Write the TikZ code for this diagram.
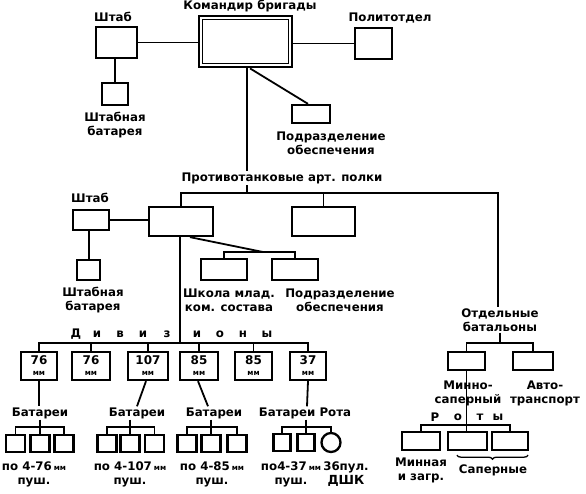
\documentclass[tikz,border=0pt]{standalone}
\usepackage{fontspec}
\setmainfont{DejaVu Sans}
\usetikzlibrary{decorations.pathreplacing}
\newcommand\lbfont{\fontsize{11.8}{14}\selectfont\bfseries}
\newcommand\numfont{\fontsize{12}{12}\selectfont\bfseries}
\newcommand\mmfont{\fontsize{7.5}{7.5}\selectfont\bfseries}
\begin{document}
\begin{tikzpicture}[x=1pt,y=-1pt,
  bx/.style={draw, line width=2.3pt, inner sep=0pt},
  ln/.style={line width=1.8pt},
  lbl/.style={inner sep=1pt, align=center, font=\lbfont},
  dv/.style={bx, minimum width=#1, minimum height=28, align=center},
  bt/.style={bx, minimum width=19, minimum height=17},
  rb/.style={bx, minimum width=#1, minimum height=18},
]
\useasboundingbox (0,0) rectangle (586,493);
% ---------- top level
\node[bx, line width=2.8pt, minimum width=93, minimum height=51] (cmd) at (245.5,41.5) {};
\draw[line width=1.5pt] ([shift={(5,5)}]cmd.north west) rectangle ([shift={(-5,-5)}]cmd.south east);
\node[lbl, anchor=base] (cmdl) at (250,9) {Командир бригады};
\node[bx, minimum width=41, minimum height=31] (shtab1) at (116.5,42.5) {};
\node[lbl] (shtab1l) at (113,17) {Штаб};
\node[bx, minimum width=26, minimum height=22] (sbat1) at (115,94) {};
\node[lbl] (sbat1l) at (115,125) {Штабная\\батарея};
\node[bx, minimum width=37, minimum height=31] (polit) at (373.5,43.5) {};
\node[lbl] (politl) at (390,18) {Политотдел};
\node[bx, minimum width=38, minimum height=18] (podr1) at (311,114) {};
\node[lbl] (podr1l) at (331,143.5) {Подразделение\\обеспечения};
\draw[ln] (shtab1.east) -- (shtab1.east -| cmd.west);
\draw[ln] (cmd.east |- polit.west) -- (polit.west);
\draw[ln] ([xshift=-1.5pt]shtab1.south) -- ([xshift=-1.5pt]shtab1.south |- sbat1.north);
\draw[ln] ([xshift=4.5pt]cmd.south) -- ([xshift=-3pt]podr1.north);
% ---------- regiments
\node[lbl, fill=white, inner sep=1.5pt] (ptap) at (282,178) {Противотанковые арт. полки};
\coordinate (hR) at (498,193);
\node[bx, minimum width=64, minimum height=29] (reg1) at (181,221.5) {};
\node[bx, minimum width=63, minimum height=29] (reg2) at (323.5,221.5) {};
\node[bx, minimum width=36, minimum height=20] (shtab2) at (91,220) {};
\node[lbl] (shtab2l) at (90,198) {Штаб};
\node[bx, minimum width=23, minimum height=20] (sbat2) at (88.5,270) {};
\node[lbl] (sbat2l) at (93,300) {Штабная\\батарея};
\node[bx, minimum width=46, minimum height=21] (school) at (224,269.5) {};
\node[lbl] (schooll) at (229,300) {Школа млад.\\ком. состава};
\node[bx, minimum width=46, minimum height=21] (podr2) at (295,269.5) {};
\node[lbl] (podr2l) at (340,300) {Подразделение\\обеспечения};
\node[lbl] (otdl) at (500,320) {Отдельные\\батальоны};
\draw[ln] ([xshift=1.5pt]cmd.south) -- ([xshift=1.5pt]cmd.south |- ptap.north);
\draw[ln] ([xshift=1.5pt]cmd.south |- ptap.south) -- ([xshift=1.5pt]cmd.south |- hR);
\draw[ln] (reg1.north) |- (hR) -- (hR |- otdl.north);
\draw[ln] (reg2.north) -- (reg2.north |- hR);
\draw[ln] (shtab2.east) -- (shtab2.east -| reg1.west);
\draw[ln] ([xshift=-2pt]shtab2.south) -- ([xshift=-2pt]shtab2.south |- sbat2.north);
\coordinate (sb) at (263,252);
\draw[ln] ([xshift=9pt]reg1.south) -- (sb);
\draw[ln] (school.north) |- (sb) -| (podr2.north);
% ---------- divisions
\foreach \x/\c [count=\i] in {76/Д, 97/и, 120/в, 143/и, 167/з, 197/и, 220/о, 243/н, 267/ы}
  \node[lbl] (dl\i) at (\x,334) {\c};
\coordinate (dh) at (0,343);
\node[dv=36] (d1) at (39,366) {\numfont 76\\[-1pt]\mmfont мм};
\node[dv=38] (d2) at (91,366) {\numfont 76\\[-1pt]\mmfont мм};
\node[dv=40] (d3) at (148,366) {\numfont 107\\[-1pt]\mmfont мм};
\node[dv=38] (d4) at (199,366) {\numfont 85\\[-1pt]\mmfont мм};
\node[dv=37] (d5) at (253.5,366) {\numfont 85\\[-1pt]\mmfont мм};
\node[dv=36] (d6) at (308,366) {\numfont 37\\[-1pt]\mmfont мм};
\draw[ln] (d1.north) |- (dh -| d6.north) -- (d6.north);
\foreach \n in {d2,d3,d4,d5}
  \draw[ln] (\n.north) -- (\n.north |- dh);
\draw[ln] ([xshift=-1pt]reg1.south) -- ([xshift=-1pt]reg1.south |- dh);
% ---------- batteries
\node[lbl] (b1) at (40,413) {Батареи};
\node[lbl] (b2) at (137,413) {Батареи};
\node[lbl] (b3) at (214,413) {Батареи};
\node[lbl] (b4) at (305,413) {Батареи Рота};
\draw[ln] (d1.south) -- (d1.south |- b1.north);
\draw[ln] ([xshift=-2pt]d3.south) -- ([xshift=-11pt]d3.south |- b2.north);
\draw[ln] ([xshift=-1pt]d4.south) -- ([xshift=9pt]d4.south |- b3.north);
\draw[ln] (d6.south) -- ([xshift=-1pt]d6.south |- b4.north);
\coordinate (bh) at (0,427);
\node[bt] (g1a) at (15.5,443.5) {};
\node[bt] (g1b) at (40,443.5) {};
\node[bt] (g1c) at (64,443.5) {};
\node[bt] (g2a) at (107,443.5) {};
\node[bt] (g2b) at (130,443.5) {};
\node[bt] (g2c) at (154.5,443.5) {};
\node[bt] (g3a) at (187,443.5) {};
\node[bt] (g3b) at (211,443.5) {};
\node[bt] (g3c) at (237,443.5) {};
\node[bt, minimum width=17] (g4a) at (282,442.5) {};
\node[bt, minimum width=17] (g4b) at (306,442.5) {};
\node[bx, circle, minimum size=19] (g4c) at (331,442.5) {};
\draw[ln] (g1a.north) |- (bh -| g1c.north) -- (g1c.north);
\draw[ln] (g1b.north) -- (g1b.north |- bh);
\draw[ln] (b1.south -| g1b.north) -- (g1b.north |- bh);
\draw[ln] (g2a.north) |- (bh -| g2c.north) -- (g2c.north);
\draw[ln] (g2b.north) -- (g2b.north |- bh);
\draw[ln] (b2.south -| g2b.north) -- (g2b.north |- bh);
\draw[ln] (g3a.north) |- (bh -| g3c.north) -- (g3c.north);
\draw[ln] (g3b.north) -- (g3b.north |- bh);
\draw[ln] (b3.south -| g3b.north) -- (g3b.north |- bh);
\draw[ln] (g4a.north) |- (bh -| g4c.north) -- (g4c.north);
\draw[ln] (b4.south -| g4b.north) -- (g4b.north);
\node[lbl] (p1) at (34,474) {по 4-76\,{\mmfont мм}\\пуш.};
\node[lbl] (p2) at (130,474) {по 4-107\,{\mmfont мм}\\пуш.};
\node[lbl] (p3) at (212,474) {по 4-85\,{\mmfont мм}\\пуш.};
\node[lbl] (p4) at (291,474) {по4-37\,{\mmfont мм}\\пуш.};
\node[lbl] (p5) at (346,474) {36пул.\\{\fontsize{12.5}{12.5}\selectfont\bfseries ДШК}};
% ---------- separate battalions
\coordinate (oh) at (0,343);
\node[rb=37] (mine) at (466.5,361) {};
\node[rb=40] (auto) at (533,361) {};
\draw[ln] (mine.north) |- (oh -| auto.north) -- (auto.north);
\draw[ln] (otdl.south) -- (otdl.south |- oh);
\node[lbl] (minel) at (468,393) {Минно-\\саперный};
\node[lbl] (autol) at (545,393) {Авто-\\транспорт};
\foreach \x/\c [count=\i] in {435/Р, 458/о, 480/т, 498/ы}
  \node[lbl] (rl\i) at (\x,417) {\c};
\coordinate (rh) at (0,425);
\node[rb=38] (r1) at (421,441) {};
\node[rb=39] (r2) at (467.5,441) {};
\node[rb=36] (r3) at (510,441) {};
\draw[ln] (mine.south) -- (mine.south |- rh);
\draw[ln] (r1.north) |- (rh -| r3.north) -- (r3.north);
\draw[ln] ([xshift=-1pt]r2.north) -- ([xshift=-1pt]r2.north |- rh);
\node[lbl] (r1l) at (421,470) {Минная\\и загр.};
\draw[line width=1.3pt, decorate, decoration={brace, amplitude=4pt}]
  ([yshift=-4pt,xshift=-1pt]r3.south east) -- ([yshift=-4pt,xshift=10pt]r2.south west);
\node[lbl] (sapl) at (493,470) {Саперные};
\end{tikzpicture}
\end{document}
